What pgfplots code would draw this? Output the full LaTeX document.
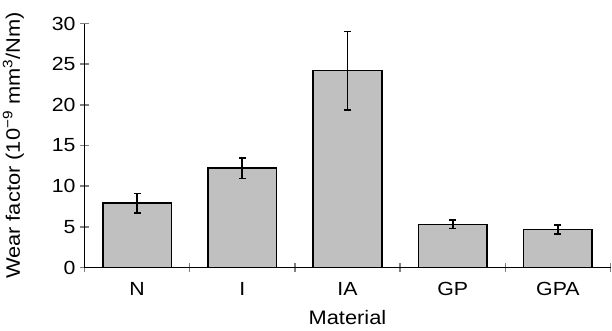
\documentclass[border=0pt]{standalone}
\usepackage{pgfplots}
\pgfplotsset{compat=1.18}
\usepackage{fontspec}
\setmainfont[FakeStretch=1.12]{Liberation Sans}
\definecolor{barfill}{RGB}{192,192,192}
\begin{document}
\begin{tikzpicture}
\begin{axis}[
  scale only axis,
  width=526pt, height=244pt,
  xmin=-0.5, xmax=4.5,
  ymin=0, ymax=30,
  axis x line=bottom, axis y line=left,
  axis line style={-, line width=1.6pt},
  /pgf/number format/assume math mode=true,
  xtick={0,1,2,3,4},
  xticklabels={N,I,IA,GP,GPA},
  minor xtick={-0.5,0.5,1.5,2.5,3.5,4.5},
  major x tick style={draw=none},
  minor x tick style={line width=1.6pt},
  minor tick length=9pt,
  major tick length=9pt,
  tick align=center,
  ytick={0,5,10,15,20,25,30},
  y tick style={line width=1.6pt},
  ticklabel style={font=\fontsize{19}{23}\selectfont},
  xticklabel style={yshift=-6.5pt},
  yticklabel style={xshift=-1pt},
  xlabel={Material},
  ylabel={Wear factor (10\textsuperscript{−9} mm\textsuperscript{3}/Nm)},
  label style={font=\fontsize{19.5}{23}\selectfont},
  xlabel style={yshift=-8.5pt},
  ylabel style={yshift=21pt},
  clip=false,
]
\addplot[ybar, bar width=68.6pt, fill=barfill, draw=black, line width=1.6pt,
  error bars/.cd, y dir=both, y explicit,
  error bar style={line width=1.7pt, black},
  error mark options={rotate=90, mark size=3.5pt, line width=1.7pt, black}]
  coordinates {
  (0,7.9) +- (0,1.2)
  (1,12.2) +- (0,1.25)
  (2,24.2) +- (0,4.8)
  (3,5.3) +- (0,0.5)
  (4,4.65) +- (0,0.55)
};
\end{axis}
\pgfresetboundingbox
\path (current axis.south west) ++(-84.5pt,-62.5pt) rectangle ++(612pt,330pt);
\end{tikzpicture}
\end{document}
